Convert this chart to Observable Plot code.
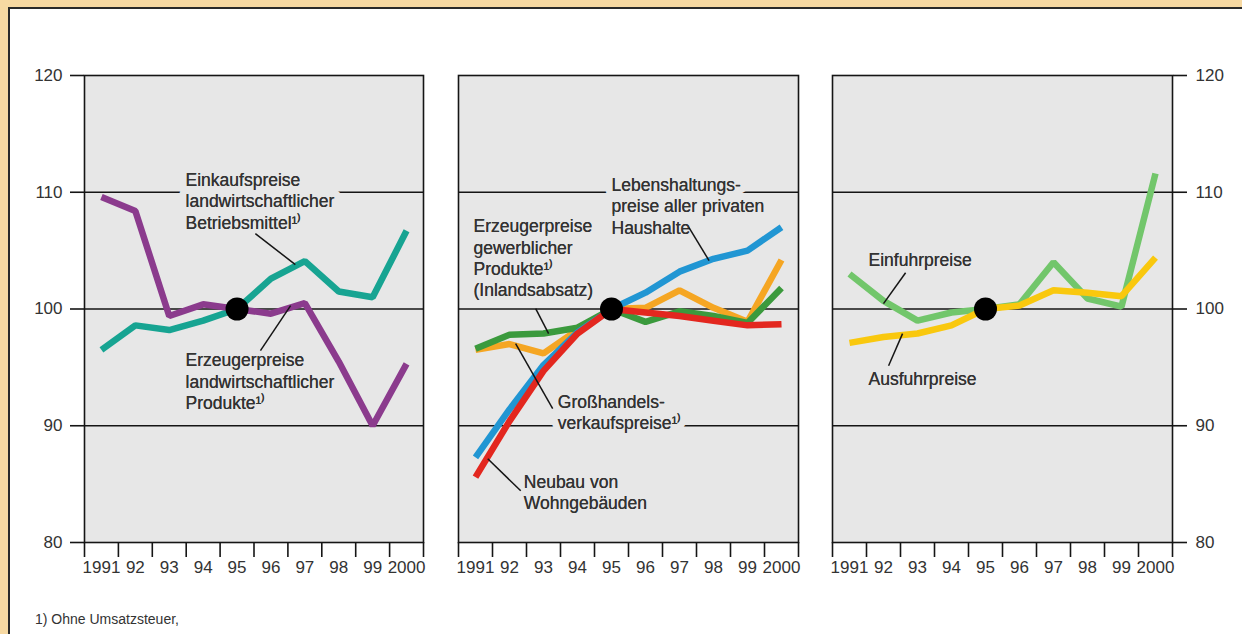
<!DOCTYPE html>
<html>
<head>
<meta charset="utf-8">
<script src="https://cdn.jsdelivr.net/npm/d3@7"></script>
<script src="https://cdn.jsdelivr.net/npm/@observablehq/plot@0.6"></script>
<style>
html, body { margin: 0; padding: 0; }
body { width: 1242px; height: 634px; background: #f7d9a2; position: relative; overflow: hidden; font-family: "Liberation Sans", Arial, sans-serif; }
#sheet { position: absolute; left: 8px; top: 7px; right: 0; bottom: 0; background: #fff; border-left: 2px solid #2a2a2a; border-top: 2px solid #2a2a2a; }
.panel { position: absolute; top: 0; }
#note { position: absolute; left: 35px; top: 611px; font-size: 14px; color: #333; }
</style>
</head>
<body>
<div id="sheet"></div>
<div id="p1" class="panel" style="left:0px"></div>
<div id="p2" class="panel" style="left:440px"></div>
<div id="p3" class="panel" style="left:810px"></div>
<div id="note">1) Ohne Umsatzsteuer,</div>
<script>
// ---------- data ----------
const years = [1991, 1992, 1993, 1994, 1995, 1996, 1997, 1998, 1999, 2000];
const yearLabels = ["1991", "92", "93", "94", "95", "96", "97", "98", "99", "2000"];
const yTicks = [80, 90, 100, 110, 120];
const gridValues = [90, 100, 110];
const baseYear = 1995;
const baseValue = 100;

// Panel 1
const agrInputPrices    = [96.5, 98.6, 98.2, 99.0, 100, 102.6, 104.1, 101.5, 101.0, 106.7];
const agrProducerPrices = [109.6, 108.4, 99.4, 100.4, 100, 99.6, 100.5, 95.5, 90.0, 95.3];
// Panel 2
const wholesalePrices    = [96.5, 97.0, 96.2, 98.2, 100, 100.1, 101.6, 100.1, 98.9, 104.2];
const industrialPrices   = [96.6, 97.8, 97.9, 98.4, 100, 98.9, 99.8, 99.4, 98.8, 101.8];
const consumerPrices     = [87.3, 91.4, 95.2, 98.0, 100, 101.4, 103.2, 104.3, 105.0, 107.0];
const constructionPrices = [85.6, 90.4, 94.7, 97.9, 100, 99.7, 99.4, 99.0, 98.6, 98.7];
// Panel 3
const importPrices = [103.0, 100.7, 99.0, 99.7, 100, 100.4, 104.0, 100.9, 100.2, 111.6];
const exportPrices = [97.1, 97.6, 97.9, 98.6, 100, 100.3, 101.6, 101.4, 101.1, 104.4];

// annotation labels (data units: x = year position of text start, y = block centre)
const labels1 = [
  {x: 1993.48, y: 109.3, text: "Einkaufspreise\nlandwirtschaftlicher\nBetriebsmittel¹⁾"},
  {x: 1993.48, y: 93.86, text: "Erzeugerpreise\nlandwirtschaftlicher\nProdukte¹⁾"}
];
const leaders1 = [
  {x1: 1995.54, y1: 106.46, x2: 1996.72, y2: 103.8},
  {x1: 1995.69, y1: 96.43, x2: 1996.58, y2: 100.29}
];
const labels2 = [
  {x: 1995.0, y: 108.86, text: "Lebenshaltungs-\npreise aller privaten\nHaushalte"},
  {x: 1990.94, y: 104.4, text: "Erzeugerpreise\ngewerblicher\nProdukte¹⁾\n(Inlandsabsatz)"},
  {x: 1993.42, y: 91.2, text: "Großhandels-\nverkaufspreise¹⁾"},
  {x: 1992.42, y: 84.34, text: "Neubau von\nWohngebäuden"}
];
const leaders2 = [
  {x1: 1997.28, y1: 106.97, x2: 1997.87, y2: 104.14},
  {x1: 1992.77, y1: 100.03, x2: 1993.15, y2: 97.89},
  {x1: 1993.27, y1: 91.46, x2: 1992.18, y2: 97.03},
  {x1: 1992.33, y1: 84.43, x2: 1991.36, y2: 87.17}
];
const labels3 = [
  {x: 1991.56, y: 104.23, text: "Einfuhrpreise"},
  {x: 1991.56, y: 94.11, text: "Ausfuhrpreise"}
];
const leaders3 = [
  {x1: 1992.65, y1: 103.11, x2: 1992.0, y2: 100.46},
  {x1: 1992.15, y1: 95.14, x2: 1992.56, y2: 97.89}
];

// ---------- styling ----------
const ink = "#151515";
const textInk = "#333333";
const bg = "#e7e7e7";
const toRows = (values) => years.map((year, i) => ({year, value: values[i]}));
const bandEdges = years.map(y => y - 0.5).concat([years[years.length - 1] + 0.5]);

function panel({el, width, marginLeft, marginRight, series, labels, leaders, yAnchor}) {
  const marks = [
    Plot.frame({fill: bg, stroke: "none"}),
    Plot.ruleY(gridValues, {stroke: ink, strokeWidth: 1.6}),
    Plot.text(labels, {
      x: "x", y: "y", text: "text", textAnchor: "start", lineAnchor: "middle",
      lineHeight: 1.22, fontSize: 17.5, fill: textInk,
      stroke: bg, strokeWidth: 14, strokeLinejoin: "round", paintOrder: "stroke"
    }),
    Plot.text(labels, {
      x: "x", y: "y", text: "text", textAnchor: "start", lineAnchor: "middle",
      lineHeight: 1.22, fontSize: 17.5, fill: textInk
    }),
    ...series.map(s => Plot.line(toRows(s.values), {
      x: "year", y: "value", stroke: s.color, strokeWidth: 6.5,
      strokeLinejoin: "miter", strokeLinecap: "butt"
    })),
    Plot.link(leaders, {x1: "x1", y1: "y1", x2: "x2", y2: "y2", stroke: ink, strokeWidth: 1.5}),
    Plot.dot([{year: baseYear, value: baseValue}], {x: "year", y: "value", r: 11.5, fill: "#000"}),
    Plot.frame({stroke: ink, strokeWidth: 1.6}),
    Plot.axisX({ticks: bandEdges, tickSize: 15, tickFormat: () => "", stroke: ink, strokeWidth: 1.6}),
    Plot.axisX({ticks: years, tickSize: 0, tickPadding: 18,
      tickFormat: d => yearLabels[years.indexOf(d)], fill: textInk, fontSize: 17})
  ];
  if (yAnchor) {
    marks.push(Plot.axisY({anchor: yAnchor, ticks: yTicks, tickSize: 14, tickPadding: yAnchor === "left" ? 8 : 9,
      stroke: ink, strokeWidth: 1.6, fill: textInk, fontSize: 17}));
  }
  const chart = Plot.plot({
    width, height: 600,
    marginLeft, marginRight, marginTop: 75, marginBottom: 58,
    x: {domain: [years[0] - 0.5, years[years.length - 1] + 0.5]},
    y: {domain: [80, 120], axis: yAnchor ? undefined : null},
    style: {fontFamily: "'Liberation Sans', Arial, sans-serif", fontSize: "17px", color: ink, background: "transparent", overflow: "visible"},
    marks
  });
  document.getElementById(el).appendChild(chart);
}

panel({
  el: "p1", width: 440, marginLeft: 84, marginRight: 17, yAnchor: "left",
  series: [
    {values: agrInputPrices, color: "#17a492"},
    {values: agrProducerPrices, color: "#8b3b8d"}
  ],
  labels: labels1, leaders: leaders1
});
panel({
  el: "p2", width: 360, marginLeft: 18, marginRight: 2, yAnchor: null,
  series: [
    {values: wholesalePrices, color: "#f5a623"},
    {values: industrialPrices, color: "#3b9a3d"},
    {values: consumerPrices, color: "#2196d3"},
    {values: constructionPrices, color: "#e3271f"}
  ],
  labels: labels2, leaders: leaders2
});
panel({
  el: "p3", width: 432, marginLeft: 22, marginRight: 70, yAnchor: "right",
  series: [
    {values: importPrices, color: "#72c66b"},
    {values: exportPrices, color: "#f9c80e"}
  ],
  labels: labels3, leaders: leaders3
});
</script>
</body>
</html>
